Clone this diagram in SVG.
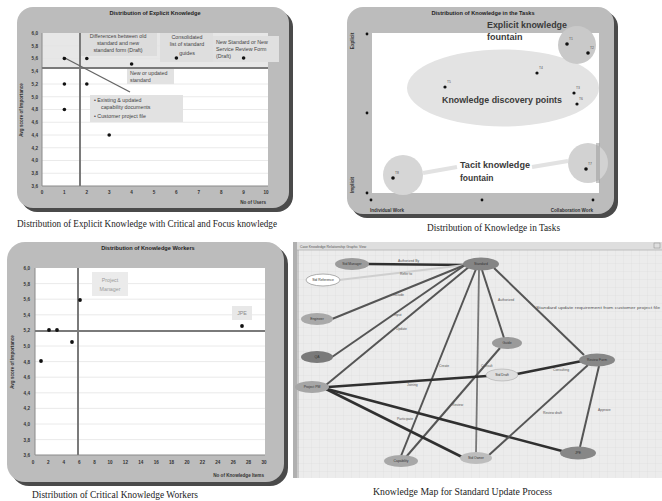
<svg xmlns="http://www.w3.org/2000/svg" width="662" height="501" viewBox="0 0 662 501">
<defs>
<style>
.frame{fill:#bcbcbc}
.shadow{fill:#4a4a4a}
.plot{fill:#fff}
.grid{stroke:#e4e4e4;stroke-width:0.8}
.axis{stroke:#8a8a8a;stroke-width:1}
.bar{stroke:#7a7a7a;stroke-width:2}
.tick{font-family:"Liberation Sans",Arial,sans-serif;font-size:4.6px;font-weight:bold;fill:#333}
.ttl{font-family:"Liberation Sans",Arial,sans-serif;font-size:5.6px;font-weight:bold;fill:#222}
.cap{font-family:"Liberation Serif","Times New Roman",serif;font-size:9.5px;fill:#222}
.lbl{font-family:"Liberation Sans",Arial,sans-serif;font-size:5.3px;fill:#444}
.big{font-family:"Liberation Sans",Arial,sans-serif;font-weight:bold;fill:#3a3a3a}
.dot{fill:#111}
.tl{font-family:"Liberation Sans",Arial,sans-serif;font-size:3.4px;fill:#555}
.nl{font-family:"Liberation Sans",Arial,sans-serif;font-size:3.4px;fill:#333;text-anchor:middle}
.e1{stroke:#303030;stroke-width:2.6;fill:none}
.e2{stroke:#555;stroke-width:2;fill:none}
.e3{stroke:#777;stroke-width:1.8;fill:none}
.e4{stroke:#cfcfcf;stroke-width:2;fill:none}
</style>
<pattern id="gridp" width="8" height="8" patternUnits="userSpaceOnUse">
<rect width="8" height="8" fill="#ececec"/>
<path d="M8 0V8M0 8H8" stroke="#dcdcdc" stroke-width="0.6"/>
</pattern>
</defs>
<rect width="662" height="501" fill="#fff"/>

<!-- Panel 1: Distribution of Explicit Knowledge -->
<g id="panel-explicit">
<rect class="shadow" x="21" y="11" width="272" height="201" rx="16"/>
<rect class="frame" x="17" y="7" width="272" height="201" rx="16"/>
<text class="ttl" x="155" y="15" text-anchor="middle">Distribution of Explicit Knowledge</text>
<rect class="plot" x="42" y="33" width="226" height="153"/>
<rect x="42" y="33" width="226" height="35" fill="#e7e7e7"/>
<g class="grid">
<line x1="42" y1="45.75" x2="268" y2="45.75"/><line x1="42" y1="58.5" x2="268" y2="58.5"/>
<line x1="42" y1="84" x2="268" y2="84"/><line x1="42" y1="96.75" x2="268" y2="96.75"/>
<line x1="42" y1="109.5" x2="268" y2="109.5"/><line x1="42" y1="122.25" x2="268" y2="122.25"/>
<line x1="42" y1="135" x2="268" y2="135"/><line x1="42" y1="147.75" x2="268" y2="147.75"/>
<line x1="42" y1="160.5" x2="268" y2="160.5"/><line x1="42" y1="173.25" x2="268" y2="173.25"/>
</g>
<rect x="80" y="33" width="77" height="23" fill="#dcdcdc"/>
<rect x="160" y="33" width="53" height="29" fill="#dedede"/>
<rect x="213" y="36" width="66" height="26" fill="#e0e0e0"/>
<rect x="127" y="69" width="47" height="15" fill="#e2e2e2"/>
<rect x="90" y="95" width="93" height="27" fill="#e2e2e2"/>
<line class="axis" x1="42" y1="33" x2="42" y2="186"/>
<line class="axis" x1="42" y1="186" x2="268" y2="186"/>
<line class="bar" x1="42" y1="68" x2="268" y2="68"/>
<line class="bar" x1="80" y1="33" x2="80" y2="186"/>
<line x1="63" y1="57" x2="130" y2="92" stroke="#666" stroke-width="1.4"/>
<g class="tick" text-anchor="end">
<text x="38" y="35">6,0</text><text x="38" y="47.5">5,8</text><text x="38" y="60.3">5,6</text>
<text x="38" y="73">5,4</text><text x="38" y="85.8">5,2</text><text x="38" y="98.5">5,0</text>
<text x="38" y="111.3">4,8</text><text x="38" y="124">4,6</text><text x="38" y="136.8">4,4</text>
<text x="38" y="149.5">4,2</text><text x="38" y="162.3">4,0</text><text x="38" y="175">3,8</text>
<text x="38" y="187.8">3,6</text>
</g>
<g class="tick" text-anchor="middle">
<text x="42" y="194">0</text><text x="64.4" y="194">1</text><text x="86.8" y="194">2</text>
<text x="109.2" y="194">3</text><text x="131.6" y="194">4</text><text x="154" y="194">5</text>
<text x="176.4" y="194">6</text><text x="198.8" y="194">7</text><text x="221.2" y="194">8</text>
<text x="243.6" y="194">9</text><text x="266" y="194">10</text>
</g>
<text class="tick" x="266" y="204" text-anchor="end">No of Users</text>
<text class="tick" transform="translate(23,110) rotate(-90)" text-anchor="middle">Avg score of Importance</text>
<g class="lbl" text-anchor="middle">
<text x="118" y="38">Differences between old</text>
<text x="118" y="45">standard and new</text>
<text x="118" y="52">standard form (Draft)</text>
<text x="187" y="39">Consolidated</text>
<text x="187" y="46">list of standard</text>
<text x="187" y="55">guides</text>
</g>
<g class="lbl">
<text x="216" y="44">New Standard or New</text>
<text x="216" y="51">Service Review Form</text>
<text x="216" y="58">(Draft)</text>
<text x="130" y="75">New or updated</text>
<text x="130" y="82">standard</text>
<text x="94" y="102">•  Existing &amp; updated</text>
<text x="101" y="109">capability documents</text>
<text x="94" y="118">•  Customer project file</text>
</g>
<g class="dot">
<circle cx="64.4" cy="58.5" r="1.8"/><circle cx="86.8" cy="58.5" r="1.8"/>
<circle cx="64.4" cy="84" r="1.8"/><circle cx="86.8" cy="84" r="1.8"/>
<circle cx="64.4" cy="109.5" r="1.8"/><circle cx="109.2" cy="135" r="1.8"/>
<circle cx="131.6" cy="64" r="1.8"/><circle cx="176.4" cy="58" r="1.8"/>
<circle cx="243.6" cy="58" r="1.8"/>
</g>
<text class="cap" x="17" y="227" textLength="260" lengthAdjust="spacingAndGlyphs">Distribution of Explicit Knowledge with Critical and Focus knowledge</text>
</g>

<!-- Panel 2: Distribution of Knowledge in the Tasks -->
<g id="panel-tasks">
<rect class="shadow" x="351" y="11" width="267" height="207" rx="16"/>
<rect class="frame" x="347" y="7" width="267" height="207" rx="16"/>
<text class="ttl" x="483" y="15" text-anchor="middle">Distribution of Knowledge in the Tasks</text>
<rect class="plot" x="372" y="33" width="227" height="160"/>
<ellipse cx="503" cy="88" rx="96" ry="38.5" fill="#e3e3e3"/>
<circle cx="577" cy="45" r="19" fill="#c9c9c9"/>
<circle cx="403" cy="175" r="20" fill="#d6d6d6"/>
<circle cx="588" cy="163" r="20" fill="#d2d2d2"/>
<line x1="423" y1="173" x2="457" y2="167" stroke="#e2e2e2" stroke-width="4"/>
<line x1="532" y1="167" x2="568" y2="161" stroke="#e2e2e2" stroke-width="4"/>
<rect x="596" y="143" width="4" height="40" fill="#a0a0a0" opacity="0.6"/>
<g class="dot">
<circle cx="367" cy="34" r="1.4"/><circle cx="367" cy="113" r="1.4"/><circle cx="367" cy="193" r="1.4"/>
<circle cx="371" cy="200" r="1.4"/><circle cx="482" cy="200" r="1.4"/><circle cx="593" cy="200" r="1.4"/>
<circle cx="445" cy="87" r="1.6"/><circle cx="537" cy="73" r="1.6"/>
<circle cx="574" cy="93" r="1.6"/><circle cx="577" cy="104" r="1.6"/>
<circle cx="567" cy="44" r="1.8"/><circle cx="588" cy="53" r="1.8"/>
<circle cx="393" cy="178" r="1.8"/><circle cx="586" cy="169" r="1.8"/>
</g>
<g class="tl">
<text x="447" y="83">T5</text><text x="539" y="69">T4</text>
<text x="576" y="89">T3</text><text x="579" y="100">T6</text>
<text x="569" y="40">T1</text><text x="590" y="49">T2</text>
<text x="395" y="174">T8</text><text x="588" y="165">T7</text>
</g>
<text class="big" x="487" y="28" font-size="9" textLength="80" lengthAdjust="spacingAndGlyphs">Explicit knowledge</text>
<text class="big" x="487" y="40" font-size="9">fountain</text>
<text class="big" x="442" y="103" font-size="9.5" textLength="120" lengthAdjust="spacingAndGlyphs">Knowledge discovery points</text>
<text class="big" x="460" y="168" font-size="8.5" textLength="70" lengthAdjust="spacingAndGlyphs">Tacit knowledge</text>
<text class="big" x="460" y="181" font-size="8.5">fountain</text>
<text class="tick" transform="translate(354,41) rotate(-90)" text-anchor="middle">Explicit</text>
<text class="tick" transform="translate(354,185) rotate(-90)" text-anchor="middle">Implicit</text>
<text class="tick" x="370" y="212">Individual Work</text>
<text class="tick" x="593" y="212" text-anchor="end">Collaboration Work</text>
<text class="cap" x="427" y="231" textLength="133" lengthAdjust="spacingAndGlyphs">Distribution of Knowledge in Tasks</text>
</g>

<!-- Panel 3: Distribution of Knowledge Workers -->
<g id="panel-workers">
<rect class="shadow" x="11" y="246" width="277" height="240" rx="18"/>
<rect class="frame" x="7" y="242" width="277" height="240" rx="18"/>
<text class="ttl" x="148" y="250" text-anchor="middle">Distribution of Knowledge Workers</text>
<rect class="plot" x="35" y="268" width="230" height="187"/>
<g class="grid">
<line x1="35" y1="283.6" x2="265" y2="283.6"/><line x1="35" y1="299.2" x2="265" y2="299.2"/>
<line x1="35" y1="314.8" x2="265" y2="314.8"/><line x1="35" y1="346" x2="265" y2="346"/>
<line x1="35" y1="361.6" x2="265" y2="361.6"/><line x1="35" y1="377.2" x2="265" y2="377.2"/>
<line x1="35" y1="392.8" x2="265" y2="392.8"/><line x1="35" y1="408.4" x2="265" y2="408.4"/>
<line x1="35" y1="424" x2="265" y2="424"/><line x1="35" y1="439.6" x2="265" y2="439.6"/>
</g>
<line class="axis" x1="35" y1="268" x2="35" y2="455"/>
<line class="axis" x1="35" y1="455" x2="265" y2="455"/>
<line class="bar" x1="35" y1="331" x2="265" y2="331"/>
<line class="bar" x1="78" y1="268" x2="78" y2="455"/>
<rect x="92" y="272" width="36" height="24" fill="#ebebeb"/>
<rect x="232" y="306" width="20" height="14" fill="#e8e8e8"/>
<text class="lbl" x="110" y="282" text-anchor="middle" fill="#999" style="fill:#9a9a9a">Project</text>
<text class="lbl" x="110" y="291" text-anchor="middle" style="fill:#9a9a9a">Manager</text>
<text class="lbl" x="242" y="315" text-anchor="middle" style="fill:#8a8a8a">JPE</text>
<g class="dot">
<circle cx="80" cy="300" r="1.9"/><circle cx="49" cy="330" r="1.9"/><circle cx="57" cy="330" r="1.9"/>
<circle cx="72" cy="342" r="1.9"/><circle cx="41" cy="361" r="1.9"/><circle cx="242" cy="326" r="1.9"/>
</g>
<g class="tick" text-anchor="end">
<text x="30" y="270">6,0</text><text x="30" y="285.6">5,8</text><text x="30" y="301.2">5,6</text>
<text x="30" y="316.8">5,4</text><text x="30" y="332.4">5,2</text><text x="30" y="348">5,0</text>
<text x="30" y="363.6">4,8</text><text x="30" y="379.2">4,6</text><text x="30" y="394.8">4,4</text>
<text x="30" y="410.4">4,2</text><text x="30" y="426">4,0</text><text x="30" y="441.6">3,8</text>
<text x="30" y="457.2">3,6</text>
</g>
<g class="tick" text-anchor="middle">
<text x="33" y="464">0</text><text x="48.4" y="464">2</text><text x="63.8" y="464">4</text>
<text x="79.2" y="464">6</text><text x="94.6" y="464">8</text><text x="110" y="464">10</text>
<text x="125.4" y="464">12</text><text x="140.8" y="464">14</text><text x="156.2" y="464">16</text>
<text x="171.6" y="464">18</text><text x="187" y="464">20</text><text x="202.4" y="464">22</text>
<text x="217.8" y="464">24</text><text x="233.2" y="464">26</text><text x="248.6" y="464">28</text>
<text x="264" y="464">30</text>
</g>
<text class="tick" x="264" y="477" text-anchor="end">No of Knowledge Items</text>
<text class="tick" transform="translate(14,362) rotate(-90)" text-anchor="middle">Avg score of Importance</text>
<text class="cap" x="32" y="498" textLength="166" lengthAdjust="spacingAndGlyphs">Distribution of Critical Knowledge Workers</text>
</g>

<!-- Panel 4: Knowledge Map -->
<g id="panel-map">
<rect x="293" y="242" width="369" height="236" fill="url(#gridp)"/>
<rect x="293" y="242" width="369" height="8" fill="#dedede"/>
<line x1="293" y1="250" x2="662" y2="250" stroke="#b5b5b5" stroke-width="0.8"/>
<rect x="293" y="242" width="4" height="236" fill="#b0b0b0"/>
<line x1="298" y1="250" x2="298" y2="478" stroke="#9a9a9a" stroke-width="0.8"/>
<rect x="654" y="243" width="6" height="5" fill="none" stroke="#888" stroke-width="0.5"/>
<text class="tl" x="300" y="248">Case Knowledge Relationship Graphic View</text>
<text class="cap" x="373" y="495" textLength="179" lengthAdjust="spacingAndGlyphs">Knowledge Map for Standard Update Process</text>
</g>

<g id="connectors">
<line class="e1" x1="368" y1="264" x2="465" y2="265"/>
<line class="e4" x1="339" y1="280" x2="465" y2="265"/>
<line class="e2" x1="332" y1="319" x2="465" y2="265"/>
<line class="e2" x1="332" y1="357" x2="465" y2="265"/>
<line class="e2" x1="326" y1="385" x2="470" y2="266"/>
<line class="e2" x1="476" y1="269" x2="401" y2="456"/>
<line class="e3" x1="479" y1="270" x2="476" y2="453"/>
<line class="e2" x1="482" y1="270" x2="504" y2="338"/>
<line class="e2" x1="494" y1="268" x2="584" y2="355"/>
<line class="e2" x1="500" y1="348" x2="406" y2="457"/>
<line class="e1" x1="328" y1="387" x2="487" y2="376"/>
<line class="e1" x1="326" y1="389" x2="462" y2="457"/>
<line class="e1" x1="327" y1="389" x2="562" y2="451"/>
<line class="e1" x1="517" y1="374" x2="582" y2="361"/>
<line class="e2" x1="588" y1="365" x2="489" y2="455"/>
<line class="e2" x1="599" y1="366" x2="580" y2="447"/>
<g class="tl">
<text x="398" y="262">Authorized By</text>
<text x="400" y="275">Refer to</text>
<text x="393" y="296">Include</text>
<text x="394" y="316">Input</text>
<text x="396" y="330">Update</text>
<text x="498" y="301">Authorized</text>
<text x="536" y="309" textLength="124" lengthAdjust="spacingAndGlyphs">Standard update requirement from customer project file</text>
<text x="439" y="367">Create</text>
<text x="481" y="367">Consult</text>
<text x="452" y="406">Review</text>
<text x="407" y="386">Joining</text>
<text x="397" y="420">Participate</text>
<text x="553" y="371">Consulting</text>
<text x="543" y="414">Review draft</text>
<text x="598" y="411">Approve</text>
</g>
</g>

<g id="node-a"><ellipse cx="352" cy="264" rx="17" ry="6" fill="#9c9c9c"/><text class="nl" x="352" y="265">Std Manager</text></g>
<g id="node-b"><ellipse cx="323" cy="280" rx="17" ry="6" fill="#fff" stroke="#999" stroke-width="0.8"/><text class="nl" x="323" y="281">Std Reference</text></g>
<g id="node-c"><ellipse cx="317" cy="319" rx="16" ry="6" fill="#a9a9a9"/><text class="nl" x="317" y="320">Engineer</text></g>
<g id="node-d"><ellipse cx="317" cy="357" rx="16" ry="6" fill="#7a7a7a"/><text class="nl" x="317" y="358">QA</text></g>
<g id="node-e"><ellipse cx="481" cy="264" rx="18" ry="6.5" fill="#858585"/><text class="nl" x="481" y="265">Standard</text></g>
<g id="node-f"><ellipse cx="507" cy="343" rx="15" ry="6" fill="#9a9a9a"/><text class="nl" x="507" y="344">Guide</text></g>
<g id="node-g"><ellipse cx="597" cy="360" rx="18" ry="6.5" fill="#878787"/><text class="nl" x="597" y="361">Review Form</text></g>
<g id="node-h"><ellipse cx="312" cy="387" rx="17" ry="6" fill="#a6a6a6"/><text class="nl" x="312" y="388">Project PM</text></g>
<g id="node-i"><ellipse cx="502" cy="375" rx="16" ry="6" fill="#dedede" stroke="#aaa" stroke-width="0.6"/><text class="nl" x="502" y="376">Std Draft</text></g>
<g id="node-k"><ellipse cx="401" cy="461" rx="17" ry="6" fill="#a8a8a8"/><text class="nl" x="401" y="462">Capability</text></g>
<g id="node-l"><ellipse cx="476" cy="458" rx="16" ry="6" fill="#bdbdbd"/><text class="nl" x="476" y="459">Std Owner</text></g>
<g id="node-m"><ellipse cx="578" cy="453" rx="18" ry="6.5" fill="#878787"/><text class="nl" x="578" y="454">JPE</text></g>
</svg>
